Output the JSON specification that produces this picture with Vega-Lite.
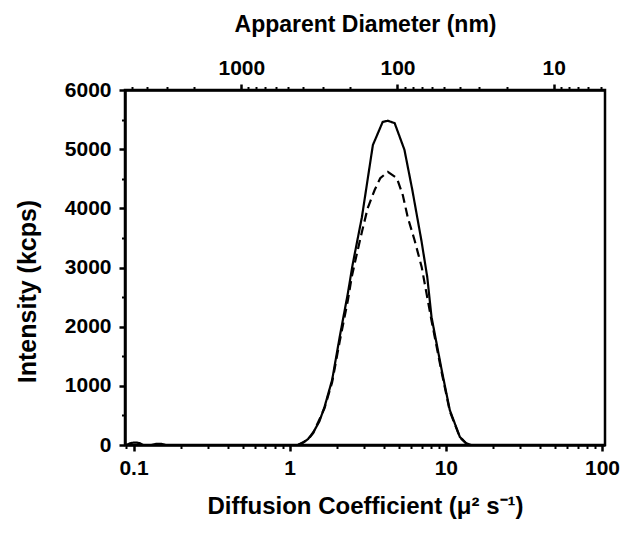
{
  "$schema": "https://vega.github.io/schema/vega-lite/v6.json",
  "width": 480,
  "height": 355,
  "autosize": "none",
  "padding": {"left": 125, "top": 90, "right": 18, "bottom": 88},
  "background": "white",
  "view": {"stroke": "black", "strokeWidth": 2.5},
  "config": {
    "axis": {
      "labelFont": "Liberation Sans",
      "labelFontWeight": "bold",
      "labelFontSize": 21,
      "labelColor": "black",
      "titleFont": "Liberation Sans",
      "titleFontWeight": "bold",
      "titleFontSize": 23,
      "titleColor": "black",
      "domainColor": "black",
      "domainWidth": 2.5,
      "tickColor": "black",
      "tickWidth": 2.5,
      "grid": false
    }
  },
  "datasets": {
    "curves": [
      {"series": "solid", "D": 0.09, "I": 0},
      {"series": "solid", "D": 0.095, "I": 30},
      {"series": "solid", "D": 0.1, "I": 40},
      {"series": "solid", "D": 0.105, "I": 40},
      {"series": "solid", "D": 0.11, "I": 30},
      {"series": "solid", "D": 0.115, "I": 0},
      {"series": "solid", "D": 0.13, "I": 0},
      {"series": "solid", "D": 0.14, "I": 20},
      {"series": "solid", "D": 0.15, "I": 20},
      {"series": "solid", "D": 0.16, "I": 0},
      {"series": "solid", "D": 1.0, "I": 0},
      {"series": "solid", "D": 1.13, "I": 0},
      {"series": "solid", "D": 1.22, "I": 40},
      {"series": "solid", "D": 1.31, "I": 100},
      {"series": "solid", "D": 1.42, "I": 220},
      {"series": "solid", "D": 1.55, "I": 400},
      {"series": "solid", "D": 1.67, "I": 640},
      {"series": "solid", "D": 1.87, "I": 1100},
      {"series": "solid", "D": 2.09, "I": 1825},
      {"series": "solid", "D": 2.36, "I": 2570},
      {"series": "solid", "D": 2.53, "I": 3050},
      {"series": "solid", "D": 2.9, "I": 3850},
      {"series": "solid", "D": 3.41, "I": 5070},
      {"series": "solid", "D": 3.94, "I": 5460},
      {"series": "solid", "D": 4.25, "I": 5480},
      {"series": "solid", "D": 4.7, "I": 5440},
      {"series": "solid", "D": 5.43, "I": 4990},
      {"series": "solid", "D": 6.1, "I": 4310},
      {"series": "solid", "D": 6.98, "I": 3450},
      {"series": "solid", "D": 7.6, "I": 2840},
      {"series": "solid", "D": 8.1, "I": 2160},
      {"series": "solid", "D": 9.4, "I": 1270},
      {"series": "solid", "D": 10.6, "I": 590},
      {"series": "solid", "D": 12.3, "I": 135},
      {"series": "solid", "D": 13.5, "I": 30},
      {"series": "solid", "D": 14.5, "I": 0},
      {"series": "dashed", "D": 1.13, "I": 0},
      {"series": "dashed", "D": 1.31, "I": 90},
      {"series": "dashed", "D": 1.42, "I": 210},
      {"series": "dashed", "D": 1.67, "I": 620},
      {"series": "dashed", "D": 1.87, "I": 1060},
      {"series": "dashed", "D": 2.09, "I": 1750},
      {"series": "dashed", "D": 2.36, "I": 2450},
      {"series": "dashed", "D": 2.5, "I": 2850},
      {"series": "dashed", "D": 2.7, "I": 3245},
      {"series": "dashed", "D": 2.9, "I": 3600},
      {"series": "dashed", "D": 3.16, "I": 4005},
      {"series": "dashed", "D": 3.5, "I": 4310},
      {"series": "dashed", "D": 3.8, "I": 4510},
      {"series": "dashed", "D": 4.25, "I": 4615},
      {"series": "dashed", "D": 4.86, "I": 4510},
      {"series": "dashed", "D": 5.3, "I": 4225},
      {"series": "dashed", "D": 5.7, "I": 3850},
      {"series": "dashed", "D": 6.3, "I": 3465},
      {"series": "dashed", "D": 7.0, "I": 3010},
      {"series": "dashed", "D": 8.1, "I": 2100},
      {"series": "dashed", "D": 9.4, "I": 1230},
      {"series": "dashed", "D": 10.6, "I": 570},
      {"series": "dashed", "D": 12.3, "I": 130},
      {"series": "dashed", "D": 13.5, "I": 25},
      {"series": "dashed", "D": 14.5, "I": 0}
    ],
    "diam": [{"d": 100}]
  },
  "layer": [
    {
      "data": {"name": "curves"},
      "mark": {"type": "line", "color": "black", "strokeWidth": 2.2, "clip": true},
      "encoding": {
        "x": {
          "field": "D", "type": "quantitative",
          "scale": {"type": "log", "domain": [0.0882, 104.5], "nice": false},
          "axis": {
            "orient": "bottom",
            "values": [0.1, 1, 10, 100],
            "format": "~g",
            "tickSize": 6,
            "labelPadding": 6,
            "title": "Diffusion Coefficient (μ² s⁻¹)",
            "titleFontSize": 24,
            "titlePadding": 16
          }
        },
        "y": {
          "field": "I", "type": "quantitative",
          "scale": {"domain": [0, 6000], "nice": false},
          "axis": {
            "orient": "left",
            "values": [0, 1000, 2000, 3000, 4000, 5000, 6000],
            "format": "d",
            "tickSize": 6,
            "labelPadding": 8,
            "title": "Intensity (kcps)",
            "titleFontSize": 25,
            "titlePadding": 24,
            "titleY": 201
          }
        },
        "strokeDash": {
          "field": "series", "type": "nominal",
          "scale": {"domain": ["solid", "dashed"], "range": [[1, 0], [9, 5]]},
          "legend": null
        }
      }
    },
    {
      "data": {"name": "curves"},
      "mark": {"type": "point", "opacity": 0},
      "encoding": {
        "x": {
          "field": "D", "type": "quantitative",
          "scale": {"type": "log", "domain": [0.0882, 104.5], "nice": false},
          "axis": {
            "orient": "bottom",
            "values": [0.09, 0.2, 0.3, 0.4, 0.5, 0.6, 0.7, 0.8, 0.9, 2, 3, 4, 5, 6, 7, 8, 9, 20, 30, 40, 50, 60, 70, 80, 90],
            "labels": false,
            "domain": false,
            "tickSize": 3.5,
            "tickWidth": 2,
            "title": null
          }
        },
        "y": {
          "field": "I", "type": "quantitative",
          "scale": {"domain": [0, 6000], "nice": false},
          "axis": {
            "orient": "left",
            "values": [500, 1500, 2500, 3500, 4500, 5500],
            "labels": false,
            "domain": false,
            "tickSize": 3.5,
            "tickWidth": 2,
            "title": null
          }
        }
      }
    },
    {
      "data": {"name": "diam"},
      "mark": {"type": "point", "opacity": 0},
      "encoding": {
        "x": {
          "field": "d", "type": "quantitative",
          "scale": {"type": "log", "domain": [5556, 4.69], "nice": false},
          "axis": {
            "orient": "top",
            "values": [1000, 100, 10],
            "format": "~g",
            "tickSize": 6,
            "labelPadding": 6,
            "title": "Apparent Diameter (nm)",
            "titleFontSize": 23,
            "titlePadding": 21
          }
        }
      }
    },
    {
      "data": {"name": "diam"},
      "mark": {"type": "point", "opacity": 0},
      "encoding": {
        "x": {
          "field": "d", "type": "quantitative",
          "scale": {"type": "log", "domain": [5556, 4.69], "nice": false},
          "axis": {
            "orient": "top",
            "values": [5000, 4000, 3000, 2000, 900, 800, 700, 600, 500, 400, 300, 200, 90, 80, 70, 60, 50, 40, 30, 20, 9, 8, 7, 6, 5],
            "labels": false,
            "domain": false,
            "tickSize": 3.5,
            "tickWidth": 2,
            "title": null
          }
        }
      }
    }
  ],
  "resolve": {
    "scale": {"x": "independent", "y": "independent"},
    "axis": {"x": "independent", "y": "independent"}
  }
}
